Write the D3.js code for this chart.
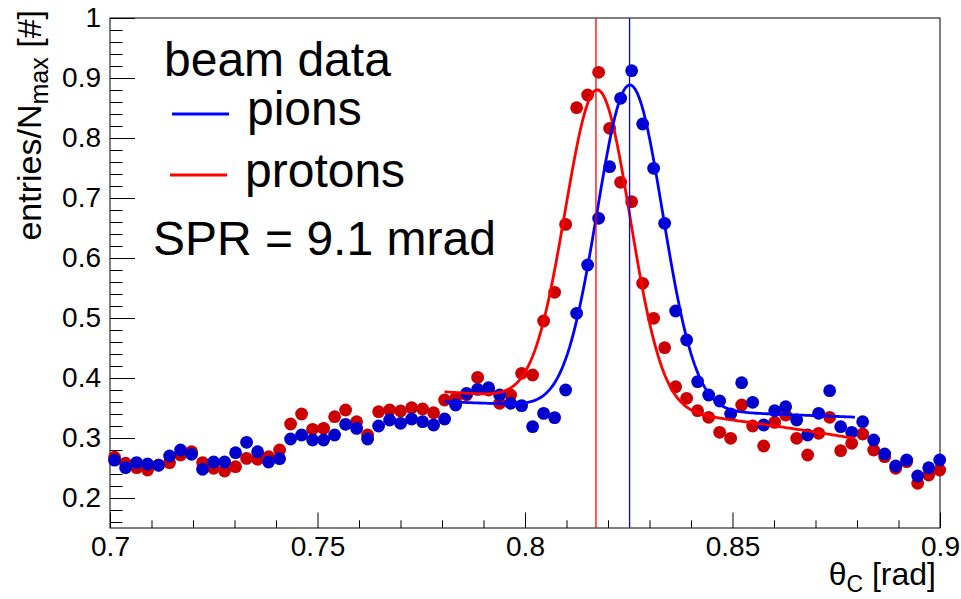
<!DOCTYPE html>
<html><head><meta charset="utf-8">
<script src="https://cdn.jsdelivr.net/npm/d3@7"></script>
<style>
body{margin:0;background:#fff}
svg{display:block}
text{font-family:"Liberation Sans",Arial,Helvetica,sans-serif;fill:#000}
</style>
</head><body>
<svg id="c" width="961" height="599"></svg>
<script>
// ---- data ----
const binFirstCenter = 0.7011;   // theta of first histogram bin centre (rad)
const binWidth = 0.002651;       // histogram bin width (rad)

const pions = [0.263,0.2505,0.259,0.2567,0.2545,0.270,0.280,0.2728,0.2478,0.260,
  0.260,0.2755,0.2928,0.2772,0.260,0.2655,0.2983,0.305,0.2967,0.2967,
  0.305,0.3228,0.316,0.2983,0.320,0.330,0.3245,0.3317,0.3272,0.3217,
  0.3317,0.355,0.3745,0.381,0.3838,0.3717,0.3578,0.354,0.319,0.341,
  0.334,0.380,0.5078,0.5883,0.6662,0.7522,0.8662,0.9122,0.8233,0.7495,
  0.6578,0.5117,0.4633,0.394,0.3717,0.3617,0.340,0.3922,0.3595,0.3217,
  0.3455,0.3522,0.330,0.305,0.3412,0.3788,0.3188,0.3095,0.3272,0.2967,
  0.2733,0.2533,0.2633,0.2367,0.2505,0.2633];

const protons = [0.268,0.258,0.2505,0.2467,0.255,0.259,0.2717,0.2772,0.259,0.2495,
  0.245,0.2522,0.266,0.2645,0.2688,0.280,0.3233,0.340,0.3145,0.316,
  0.3355,0.3467,0.3272,0.305,0.3438,0.3467,0.345,0.3505,0.3483,0.3422,
  0.3633,0.366,0.372,0.401,0.380,0.3578,0.3717,0.4078,0.405,0.495,
  0.5428,0.656,0.8505,0.8717,0.9095,0.8162,0.7262,0.6938,0.5578,0.4995,
  0.4505,0.3855,0.3662,0.3455,0.3345,0.3095,0.2995,0.355,0.320,0.2867,
  0.326,0.3383,0.2995,0.2717,0.3078,0.3345,0.2788,0.2912,0.3067,0.280,
  0.2688,0.2495,0.2605,0.2245,0.2383,0.2467];

// fit: amp, mean, sigma, bg p0, p1, p2 (bg in t = theta - fitRange[0])
const pionFitParams   = [0.5396, 0.8253, 0.0079, 0.3605, -0.26, 0];
const protonFitParams = [0.524, 0.8175, 0.0078, 0.377, -0.4275, -3.625];
const fitRange = [0.7806, 0.8795];
const meanLines = [0.8171, 0.8252];   // protons, pions

const xTicks = [0.7, 0.75, 0.8, 0.85, 0.9];
const xTickLabels = ["0.7", "0.75", "0.8", "0.85", "0.9"];
const yTicks = [0.2, 0.3, 0.4, 0.5, 0.6, 0.7, 0.8, 0.9, 1.0];
const yTickLabels = ["0.2", "0.3", "0.4", "0.5", "0.6", "0.7", "0.8", "0.9", "1"];
const xDomain = [0.7, 0.9];
const yDomain = [0.15, 1.0];

const legendLabels = ["beam data", "pions", "protons", "SPR = 9.1 mrad"];

// ---- layout ----
const W = 961, H = 599;
const L = 110, R = 940, T = 18, B = 528;
const svg = d3.select("#c");
svg.append("rect").attr("width", W).attr("height", H).attr("fill", "#fff");

const x = d3.scaleLinear().domain(xDomain).range([L, R]);
const y = d3.scaleLinear().domain(yDomain).range([B, T]);

const colPion = "#0000cc", colProton = "#cc0000";
const lineBlue = "#0000ff", lineRed = "#ff0000";

// axes
const yMinor = d3.range(0.16, 1.0001, 0.02).filter(v => Math.abs(v*10 - Math.round(v*10)) > 1e-6);
const xMinor = d3.range(0.71, 0.9, 0.01).filter(v => Math.abs(v*20 - Math.round(v*20)) > 1e-6);

const gy = svg.append("g").attr("transform", `translate(${L},0)`);
gy.call(d3.axisLeft(y).tickValues(yTicks).tickSize(-25).tickPadding(9)
  .tickFormat((d, i) => yTickLabels[i]));
gy.append("g").call(d3.axisLeft(y).tickValues(yMinor).tickSize(-12.5).tickFormat(""));
gy.selectAll(".domain").remove();
gy.selectAll("text").attr("font-size", 28).style("font-family", '"Liberation Sans",Arial,sans-serif').attr("fill", "#000");
gy.selectAll("line").attr("stroke", "#000");

const gx = svg.append("g").attr("transform", `translate(0,${B})`);
gx.call(d3.axisBottom(x).tickValues(xTicks).tickSize(-15.5).tickPadding(8)
  .tickFormat((d, i) => xTickLabels[i]));
gx.append("g").call(d3.axisBottom(x).tickValues(xMinor).tickSize(-7.7).tickFormat(""));
gx.selectAll(".domain").remove();
gx.selectAll("text").attr("font-size", 28).style("font-family", '"Liberation Sans",Arial,sans-serif').attr("fill", "#000");
gx.selectAll("line").attr("stroke", "#000");

// frame
svg.append("rect").attr("x", L).attr("y", T).attr("width", R - L).attr("height", B - T)
  .attr("fill", "none").attr("stroke", "#000").attr("stroke-width", 1);

// data points
const binCenters = pions.map((_, i) => binFirstCenter + i * binWidth);
const pts = svg.append("g");
pts.selectAll("circle.pr").data(protons).join("circle")
  .attr("cx", (d, i) => x(binCenters[i])).attr("cy", d => y(d)).attr("r", 6.4)
  .attr("fill", colProton);
pts.selectAll("circle.pi").data(pions).join("circle").attr("class", "pi")
  .attr("cx", (d, i) => x(binCenters[i])).attr("cy", d => y(d)).attr("r", 6.4)
  .attr("fill", colPion);

// fit curves
function fitFn(p) {
  return th => {
    const t = th - fitRange[0];
    return p[0] * Math.exp(-0.5 * Math.pow((th - p[1]) / p[2], 2)) + p[3] + p[4] * t + p[5] * t * t;
  };
}
const samples = d3.range(0, 201).map(i => fitRange[0] + (fitRange[1] - fitRange[0]) * i / 200);
const line = d3.line().x(d => x(d[0])).y(d => y(d[1]));
[[protonFitParams, lineRed], [pionFitParams, lineBlue]].forEach(([p, c]) => {
  const f = fitFn(p);
  svg.append("path").attr("d", line(samples.map(s => [s, f(s)])))
    .attr("fill", "none").attr("stroke", c).attr("stroke-width", 2.8);
});

// mean lines
[[meanLines[0], lineRed], [meanLines[1], lineBlue]].forEach(([m, c]) => {
  svg.append("line").attr("x1", x(m)).attr("x2", x(m)).attr("y1", T).attr("y2", B)
    .attr("stroke", c).attr("stroke-width", 1.3);
});

// legend
const fs = 48;
svg.append("text").attr("x", 164).attr("y", 76).attr("font-size", fs).text(legendLabels[0]);
svg.append("line").attr("x1", 172).attr("x2", 229).attr("y1", 114).attr("y2", 114)
  .attr("stroke", lineBlue).attr("stroke-width", 3);
svg.append("text").attr("x", 247).attr("y", 125).attr("font-size", fs).text(legendLabels[1]);
svg.append("line").attr("x1", 170).attr("x2", 227).attr("y1", 175).attr("y2", 175)
  .attr("stroke", lineRed).attr("stroke-width", 3);
svg.append("text").attr("x", 245).attr("y", 187).attr("font-size", fs).text(legendLabels[2]);
svg.append("text").attr("x", 153).attr("y", 255).attr("font-size", fs).text(legendLabels[3]);

// axis titles
const xt = svg.append("text").attr("x", 936).attr("y", 585).attr("font-size", 32).attr("text-anchor", "end");
xt.append("tspan").text("θ");
xt.append("tspan").attr("font-size", 23).attr("dy", 7).text("C");
xt.append("tspan").attr("dy", -7).text(" [rad]");

const yt = svg.append("text").attr("transform", "translate(41,10) rotate(-90)")
  .attr("font-size", 34).attr("text-anchor", "end");
yt.append("tspan").text("entries/N");
yt.append("tspan").attr("font-size", 25).attr("dy", 7).text("max");
yt.append("tspan").attr("dy", -7).text(" [#]");
</script>
</body></html>
